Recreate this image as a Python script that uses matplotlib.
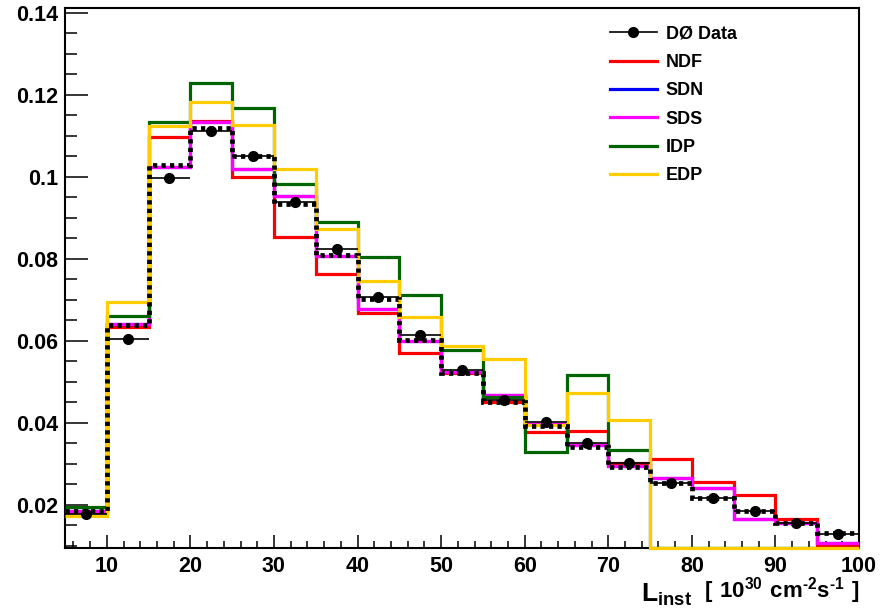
import numpy as np
import matplotlib
matplotlib.use('Agg')
import matplotlib.pyplot as plt
from matplotlib.lines import Line2D
from matplotlib.ticker import MultipleLocator

plt.rcParams['font.family'] = ['Liberation Sans', 'DejaVu Sans']
plt.rcParams['font.weight'] = 'bold'
plt.rcParams['mathtext.fontset'] = 'custom'
plt.rcParams['mathtext.rm'] = 'Liberation Sans:bold'
plt.rcParams['mathtext.default'] = 'regular'

# bins of instantaneous luminosity (10^30 cm^-2 s^-1)
bin_edges = [5, 10, 15, 20, 25, 30, 35, 40, 45, 50, 55, 60, 65, 70, 75, 80, 85, 90, 95, 100]

data = [0.0178, 0.0604, 0.0998, 0.1112, 0.1050, 0.0940, 0.0824, 0.0708, 0.0615, 0.0529,
        0.0455, 0.0403, 0.0350, 0.0302, 0.0254, 0.0216, 0.0186, 0.0155, 0.0129]
ndf = [0.0183, 0.0633, 0.1097, 0.1137, 0.0999, 0.0854, 0.0764, 0.0668, 0.0571, 0.0522,
       0.0451, 0.0379, 0.0380, 0.0302, 0.0311, 0.0257, 0.0224, 0.0166, 0.0102]
sdn = [0.0186, 0.0641, 0.1025, 0.1135, 0.1019, 0.0954, 0.0807, 0.0679, 0.0601, 0.0525,
       0.0468, 0.0397, 0.0346, 0.0295, 0.0265, 0.0241, 0.0165, 0.0156, 0.0108]
sds = [0.0186, 0.0641, 0.1025, 0.1135, 0.1019, 0.0954, 0.0807, 0.0679, 0.0601, 0.0525,
       0.0468, 0.0397, 0.0346, 0.0295, 0.0265, 0.0241, 0.0165, 0.0156, 0.0108]
idp = [0.0195, 0.0661, 0.1135, 0.1230, 0.1168, 0.0983, 0.0890, 0.0804, 0.0712, 0.0577,
       0.0464, 0.0330, 0.0517, 0.0334, 0.0, 0.0, 0.0, 0.0, 0.0]
edp = [0.0173, 0.0696, 0.1123, 0.1182, 0.1127, 0.1019, 0.0873, 0.0746, 0.0658, 0.0587,
       0.0556, 0.0395, 0.0472, 0.0407, 0.0, 0.0, 0.0, 0.0, 0.0]
combined = [0.0186, 0.0639, 0.1029, 0.1119, 0.1050, 0.0934, 0.0809, 0.0702, 0.0602, 0.0521,
            0.0451, 0.0393, 0.0341, 0.0292, 0.0254, 0.0217, 0.0186, 0.0155, 0.0131]

ymin, ymax = 0.0095, 0.1412

fig = plt.figure(figsize=(8.82, 6.10), dpi=100)
ax = fig.add_axes([0.0737, 0.1016, 0.9003, 0.8853])

edges = np.array(bin_edges, dtype=float)
centers = 0.5 * (edges[:-1] + edges[1:])
half = 0.5 * np.diff(edges)

def draw_hist(vals, color, z, **kw):
    # ROOT draws empty bins along the bottom of the frame
    v = np.clip(np.array(vals), ymin, None)
    ax.stairs(v, edges, baseline=None, color=color, linewidth=2.3, zorder=z, **kw)

draw_hist(ndf, '#ff0000', 2.6)
draw_hist(sdn, '#0000ff', 2.61)
draw_hist(sds, '#ff00ff', 2.62)
draw_hist(idp, '#006400', 2.63)
draw_hist(edp, '#ffcc00', 2.64, clip_on=False)
ax.stairs(combined, edges, baseline=None, color='black', linewidth=3.4,
          linestyle=(0, (0.9, 0.9)), zorder=2.7)

ax.errorbar(centers, data, xerr=half, fmt='o', color='black', markersize=7,
            elinewidth=1.2, capsize=0, zorder=5)

ax.set_xlim(5, 100)
ax.set_ylim(ymin, ymax)
ax.xaxis.set_minor_locator(MultipleLocator(2))
ax.yaxis.set_minor_locator(MultipleLocator(0.005))
ax.set_xticks([10, 20, 30, 40, 50, 60, 70, 80, 90, 100])
ax.set_xticklabels(['10', '20', '30', '40', '50', '60', '70', '80', '90', '100'])
ax.set_yticks([0.02, 0.04, 0.06, 0.08, 0.1, 0.12, 0.14])
ax.set_yticklabels(['0.02', '0.04', '0.06', '0.08', '0.1', '0.12', '0.14'])

ax.tick_params(axis='both', which='both', direction='in', labelsize=15.5, width=1.1)
ax.tick_params(axis='x', which='major', length=9.5, pad=6)
ax.tick_params(axis='x', which='minor', length=5)
ax.tick_params(axis='y', which='major', length=16.5, pad=5)
ax.tick_params(axis='y', which='minor', length=8.6)
for s in ax.spines.values():
    s.set_linewidth(1.5)

# axis title in ROOT style, bottom right
fig.text(0.727, 0.014, r'$L_{inst}$', fontsize=19, ha='left', va='baseline')
fig.text(0.974, 0.020, r'$[\ 10^{30}\ cm^{‐2}s^{‐1}\ ]$', fontsize=16, ha='right', va='baseline')

handles = [
    Line2D([], [], color='black', marker='o', markersize=7, linewidth=1.2),
    Line2D([], [], color='#ff0000', linewidth=2.3),
    Line2D([], [], color='#0000ff', linewidth=2.3),
    Line2D([], [], color='#ff00ff', linewidth=2.3),
    Line2D([], [], color='#006400', linewidth=2.3),
    Line2D([], [], color='#ffcc00', linewidth=2.3),
]
labels = ['DØ Data', 'NDF', 'SDN', 'SDS', 'IDP', 'EDP']
fig.legend(handles, labels, loc='upper left', bbox_to_anchor=(0.683, 0.970),
           frameon=False, fontsize=13, handlelength=2.6, handletextpad=0.5,
           labelspacing=0.63, borderaxespad=0)

plt.savefig('out.png', dpi=100)
